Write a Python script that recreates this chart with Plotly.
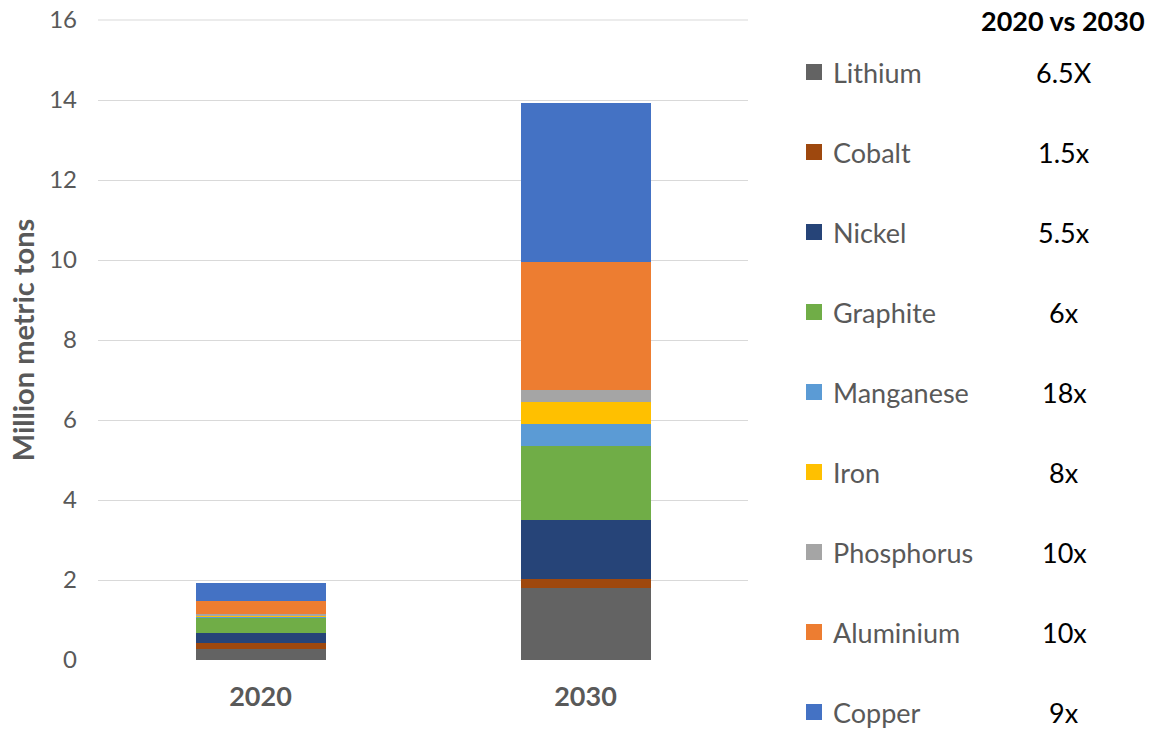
import plotly.graph_objects as go

years = ["2020", "2030"]
materials = ["Lithium", "Cobalt", "Nickel", "Graphite", "Manganese", "Iron",
             "Phosphorus", "Aluminium", "Copper"]
values_2020 = [0.275, 0.145, 0.26, 0.38, 0.03, 0.03, 0.02, 0.335, 0.445]
values_2030 = [1.81, 0.21, 1.48, 1.85, 0.55, 0.55, 0.30, 3.20, 3.98]
multipliers = ["6.5X", "1.5x", "5.5x", "6x", "18x", "8x", "10x", "10x", "9x"]
colors = ["#636363", "#9E480E", "#264478", "#70AD47", "#5B9BD5", "#FFC000",
          "#A5A5A5", "#ED7D31", "#4472C4"]

FONT = "Lato"
GRAY = "#595959"

fig = go.Figure()
for i, m in enumerate(materials):
    fig.add_trace(go.Bar(
        x=years, y=[values_2020[i], values_2030[i]], name=m,
        marker=dict(color=colors[i], line=dict(width=0)),
        showlegend=False,
    ))

L, R_EDGE, T, B = 98, 748, 20, 69
W = R_EDGE - L
H = 729 - T - B


def px_x(p):
    return (p - L) / W


def px_y(p):
    return (729 - B - p) / H


# top gridline (at the plot edge)
fig.add_shape(type="line", xref="paper", yref="paper", x0=0, x1=1, y0=1, y1=1,
              line=dict(color="#D9D9D9", width=1), layer="below")

# custom legend + multiplier column
for i, (m, t) in enumerate(zip(materials, multipliers)):
    py = 72 + 80 * i
    fig.add_shape(type="rect", xref="paper", yref="paper",
                  x0=px_x(806), x1=px_x(822), y0=px_y(py + 8), y1=px_y(py - 8),
                  fillcolor=colors[i], line=dict(width=0))
    fig.add_annotation(x=px_x(831), y=px_y(py), xref="paper", yref="paper",
                       text=m, showarrow=False, xanchor="left", yanchor="middle",
                       font=dict(family=FONT, size=27, color=GRAY))
    fig.add_annotation(x=px_x(1064), y=px_y(py), xref="paper", yref="paper",
                       text=t, showarrow=False, xanchor="center", yanchor="middle",
                       font=dict(family=FONT, size=27, color="black"))
fig.add_annotation(x=px_x(1063), y=px_y(20), xref="paper", yref="paper",
                   text="<b>2020 vs 2030</b>", showarrow=False,
                   xanchor="center", yanchor="middle",
                   font=dict(family=FONT, size=27, color="black"))

fig.update_layout(
    barmode="stack", bargap=0.6,
    width=1152, height=729,
    margin=dict(l=L, r=1152 - R_EDGE, t=T, b=B, autoexpand=False),
    plot_bgcolor="white", paper_bgcolor="white",
    font=dict(family=FONT, color=GRAY),
    showlegend=False,
    yaxis=dict(range=[0, 16], dtick=2, showgrid=True, gridcolor="#D9D9D9",
               gridwidth=1, zeroline=False, showline=False, automargin=False,
               tickfont=dict(size=24, color=GRAY), ticks="", ticklen=0,
               ticklabelstandoff=20,
               title=dict(text="<b>Million metric tons</b>",
                          font=dict(size=29, color=GRAY), standoff=6)),
    xaxis=dict(showline=False, ticks="", automargin=False,
               tickfont=dict(size=27, color=GRAY), ticklabelstandoff=18,
               tickvals=years, ticktext=["<b>2020</b>", "<b>2030</b>"]),
)

fig.write_html("out.html")
